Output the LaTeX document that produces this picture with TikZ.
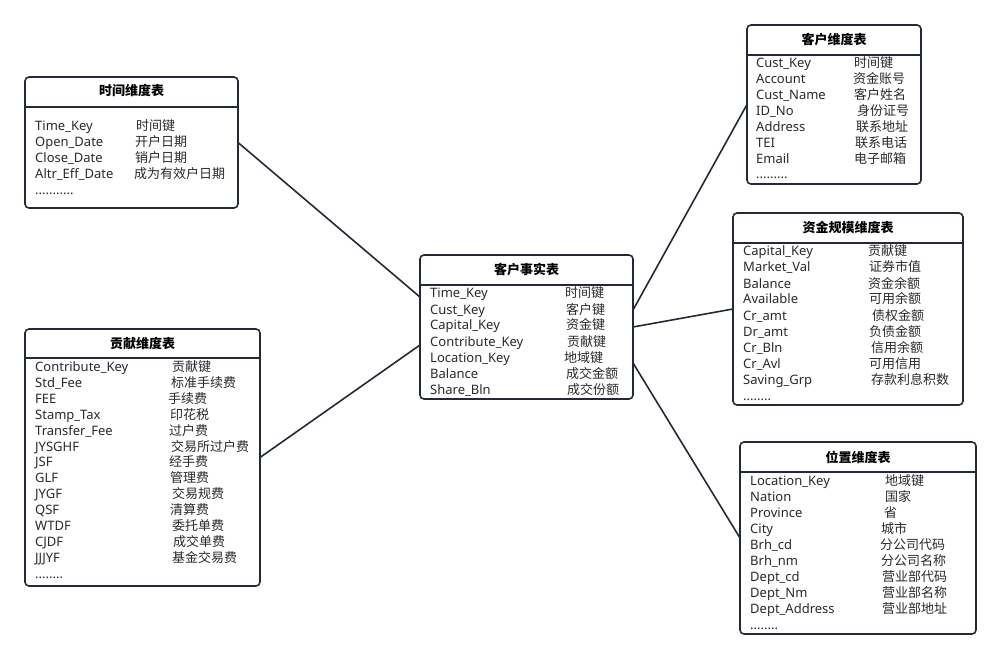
\documentclass[tikz,border=0pt]{standalone}
\usepackage{fontspec}
\setmainfont{Noto Sans}
\newfontfamily\cjk{Noto Sans CJK SC}
\usetikzlibrary{calc}
\definecolor{ink}{HTML}{222B35}
\definecolor{txt}{HTML}{2A2A2A}
\tikzset{
  tbl/.style={draw=ink, line width=1.6pt, rounded corners=4pt, fill=white, inner sep=0pt, outer sep=0pt},
  hdr/.style={draw=ink, line width=1.6pt},
  lbl/.style={anchor=base west, inner sep=0pt, text=txt, font=\fontsize{13}{15}\selectfont},
  cn/.style={anchor=base west, inner sep=0pt, text=txt, font=\cjk\fontsize{13}{15}\selectfont},
  ttl/.style={anchor=base, inner sep=0pt, text=black, font=\cjk\bfseries\fontsize{13}{15}\selectfont},
  link/.style={draw=ink, line width=1.6pt}
}
\begin{document}
\begin{tikzpicture}[x=1pt,y=-1pt]
\useasboundingbox (0,0) rectangle (1001,660);

% ---------- boxes ----------
\node[tbl, minimum width=213pt, minimum height=131pt] (time) at (131.5,142.5) {};
\node[tbl, minimum width=235pt, minimum height=257pt] (contrib) at (142.5,457.5) {};
\node[tbl, minimum width=213pt, minimum height=144pt] (fact) at (526.5,327) {};
\node[tbl, minimum width=174pt, minimum height=159pt] (cust) at (834,104.5) {};
\node[tbl, minimum width=230pt, minimum height=192pt] (capital) at (848,309) {};
\node[tbl, minimum width=236pt, minimum height=192pt] (loc) at (858,538) {};

% header separators
\draw[hdr] (time.west |- 0,107) -- (time.east |- 0,107);
\draw[hdr] (contrib.west |- 0,358) -- (contrib.east |- 0,358);
\draw[hdr] (fact.west |- 0,285) -- (fact.east |- 0,285);
\draw[hdr] (cust.west |- 0,55) -- (cust.east |- 0,55);
\draw[hdr] (capital.west |- 0,243) -- (capital.east |- 0,243);
\draw[hdr] (loc.west |- 0,472) -- (loc.east |- 0,472);

% titles
\node[ttl] (time-t) at (131.5,96) {时间维度表};
\node[ttl] (contrib-t) at (142.5,348) {贡献维度表};
\node[ttl] (fact-t) at (526.5,275) {客户事实表};
\node[ttl] (cust-t) at (834,45) {客户维度表};
\node[ttl] (capital-t) at (848,233) {资金规模维度表};
\node[ttl] (loc-t) at (858,462) {位置维度表};

% ---------- rows ----------
\foreach \l/\c/\cx [count=\i] in {Time\_Key/时间键/136, Open\_Date/开户日期/135, Close\_Date/销户日期/135, Altr\_Eff\_Date/成为有效户日期/134}{
  \pgfmathsetmacro\yy{130.5+16*(\i-1)}
  \node[lbl] (time-l\i) at (35,\yy) {\l};
  \node[cn] (time-c\i) at (\cx,\yy) {\c};
}
\node[lbl] (time-d) at (35,194.5) {...........};

\foreach \l/\c/\cx [count=\i] in {Contribute\_Key/贡献键/172, Std\_Fee/标准手续费/171, FEE/手续费/168, Stamp\_Tax/印花税/170, Transfer\_Fee/过户费/169, JYSGHF/交易所过户费/171, JSF/经手费/169, GLF/管理费/170, JYGF/交易规费/172, QSF/清算费/170, WTDF/委托单费/172, CJDF/成交单费/173, JJJYF/基金交易费/172}{
  \pgfmathsetmacro\yy{371.5+15.9*(\i-1)}
  \node[lbl] (contrib-l\i) at (35,\yy) {\l};
  \node[cn] (contrib-c\i) at (\cx,\yy) {\c};
}
\node[lbl] (contrib-d) at (35,578.5) {........};

\foreach \l/\c/\cx [count=\i] in {Time\_Key/时间键/565, Cust\_Key/客户键/566, Capital\_Key/资金键/566, Contribute\_Key/贡献键/567, Location\_Key/地域键/564, Balance/成交金额/566, Share\_Bln/成交份额/567}{
  \pgfmathsetmacro\yy{298+16*(\i-1)}
  \node[lbl] (fact-l\i) at (430,\yy) {\l};
  \node[cn] (fact-c\i) at (\cx,\yy) {\c};
}

\foreach \l/\c/\cx [count=\i] in {Cust\_Key/时间键/854, Account/资金账号/853, Cust\_Name/客户姓名/854, ID\_No/身份证号/857, Address/联系地址/856, TEI/联系电话/855, Email/电子邮箱/854}{
  \pgfmathsetmacro\yy{68+15.9*(\i-1)}
  \node[lbl] (cust-l\i) at (756,\yy) {\l};
  \node[cn] (cust-c\i) at (\cx,\yy) {\c};
}
\node[lbl] (cust-d) at (756,179) {.........};

\foreach \l/\c/\cx [count=\i] in {Capital\_Key/贡献键/868, Market\_Val/证券市值/869, Balance/资金余额/868, Available/可用余额/869, Cr\_amt/债权金额/872, Dr\_amt/负债金额/869, Cr\_Bln/信用余额/871, Cr\_Avl/可用信用/869, Saving\_Grp/存款利息积数/871}{
  \pgfmathsetmacro\yy{256+16*(\i-1)}
  \node[lbl] (capital-l\i) at (743,\yy) {\l};
  \node[cn] (capital-c\i) at (\cx,\yy) {\c};
}
\node[lbl] (capital-d) at (743,400) {........};

\foreach \l/\c/\cx [count=\i] in {Location\_Key/地域键/885, Nation/国家/885, Province/省/884, City/城市/881, Brh\_cd/分公司代码/880, Brh\_nm/分公司名称/881, Dept\_cd/营业部代码/882, Dept\_Nm/营业部名称/882, Dept\_Address/营业部地址/882}{
  \pgfmathsetmacro\yy{485+16*(\i-1)}
  \node[lbl] (loc-l\i) at (750,\yy) {\l};
  \node[cn] (loc-c\i) at (\cx,\yy) {\c};
}
\node[lbl] (loc-d) at (750,629) {........};

% ---------- connectors ----------
\draw[link] (time.east) -- ($(fact.north west)!0.292!(fact.south west)$);
\draw[link] (contrib.east) -- ($(fact.north west)!0.625!(fact.south west)$);
\draw[link] ($(fact.north east)!0.382!(fact.south east)$) -- (cust.west);
\draw[link] (fact.east) -- (capital.west);
\draw[link] ($(fact.north east)!0.75!(fact.south east)$) -- (loc.west);
\end{tikzpicture}
\end{document}
